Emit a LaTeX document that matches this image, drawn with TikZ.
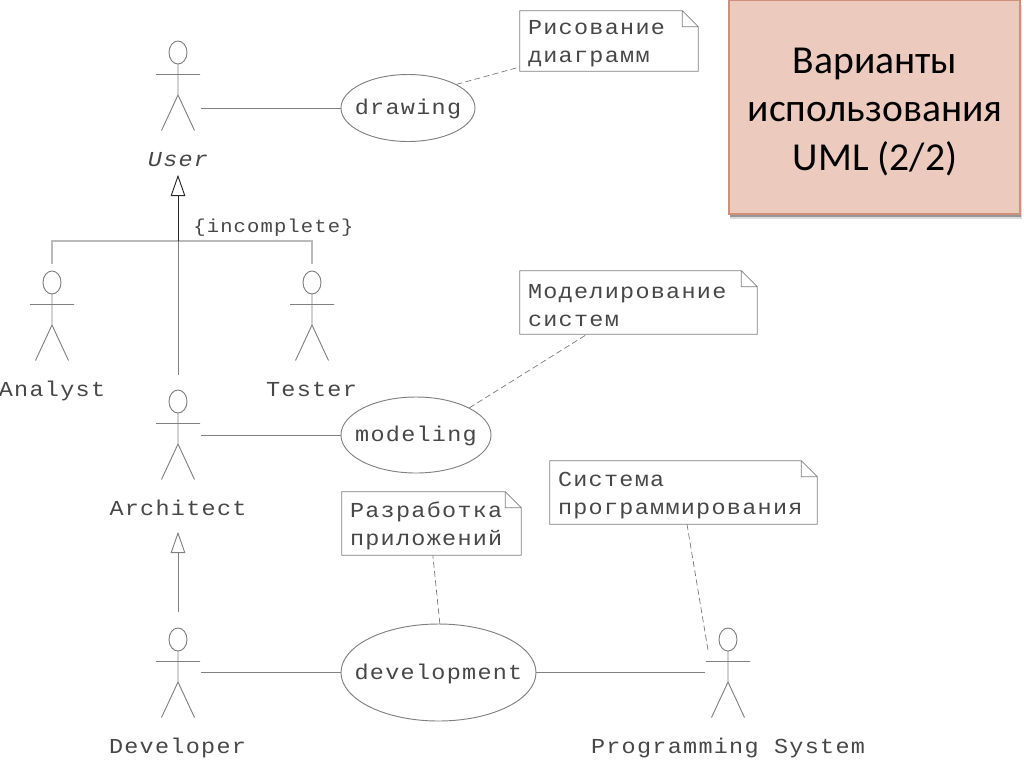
\documentclass[tikz,border=0pt]{standalone}
\usepackage{fontspec}
\usetikzlibrary{arrows.meta,shapes.geometric,calc}
\newfontfamily\umono[FakeStretch=1.1,LetterSpace=6]{Liberation Mono}
\newfontfamily\utitle{Carlito}
\def\upx{*0.75pt}
\tikzset{
  x=0.75pt,y=-0.75pt,
  uline/.style={draw=black!50,line width=0.7pt},
  dashline/.style={draw=black!55,line width=0.5pt,dash pattern=on 4.5pt off 2.5pt},
  actorfig/.style={minimum width=46\upx,minimum height=90\upx,inner sep=0pt},
  actorlabel/.style={font=\umono\fontsize{16}{21}\selectfont,text=black!72,anchor=base,inner sep=0pt,text depth=8\upx},
  ucfont/.style={font=\umono\fontsize{16}{21}\selectfont,text=black!72,inner sep=0pt,yshift=-1pt},
  usecase/.style={ellipse,uline,inner sep=0pt},
  notebox/.style={rectangle,inner xsep=8\upx,inner ysep=0pt,align=left,font=\umono\fontsize{16}{21}\selectfont,text=black!72},
  gentip/.style={-{Triangle[open,length=16pt,width=11pt,fill=white]}},
  titlebox/.style={rectangle,fill=titlefill,draw=titleedge,line width=0.8pt,inner sep=0pt,minimum width=291\upx,minimum height=214\upx},
  titletext/.style={inner sep=0pt,align=center,font=\utitle\fontsize{29.7}{36.4}\selectfont},
  titleshadow/.style={rectangle,fill=black!60,inner sep=0pt,minimum width=291\upx,minimum height=214\upx,opacity=0.6},
  titleglow/.style={rectangle,fill=black!60,inner sep=0pt,minimum width=292\upx,minimum height=214\upx,opacity=0.22}
}
\definecolor{titlefill}{HTML}{ECCBBE}
\definecolor{titleedge}{HTML}{CF8F78}
\newcommand\uactor[3]{%
  \begin{scope}[shift={(#2,#3)}]
    \node[actorfig] (#1) at (0,45) {};
    \draw[uline] (0,11.5) ellipse [x radius=9,y radius=11.5];
    \draw[uline] (0,23) -- (0,54) (-22,33.5) -- (22,33.5) (-16.5,89.5) -- (0,54) -- (16.5,89.5);
  \end{scope}}
\newcommand\unote[6]{% name, left, top, right, bottom, text
  \pgfmathsetmacro\uw{#4-#2}\pgfmathsetmacro\uh{#5-#3}\pgfmathsetmacro\utw{#4-#2-16}
  \node[notebox,minimum width=\uw\upx,minimum height=\uh\upx,text width=\utw\upx] (#1) at ({(#2+#4)/2},{(#3+#5)/2}) {\rule{0pt}{15pt}#6};
  \draw[uline,line width=0.55pt] (#1.south west) -- (#1.north west) -- ([xshift=-12pt]#1.north east) -- ([yshift=-12pt]#1.north east) -- (#1.south east) -- cycle
    ([xshift=-12pt]#1.north east) -- ([xshift=-12pt,yshift=-12pt]#1.north east) -- ([yshift=-12pt]#1.north east);}
\begin{document}
\begin{tikzpicture}
\useasboundingbox (0,0) rectangle (1024,768);
% title
\node[titleglow] (glow) at (875.5,112) {};
\node[titleshadow] (shadow) at (875.5,110) {};
\node[titlebox] (title) at (874.5,107) {};
\node[titletext] (titleT) at (875,112) {Варианты\\использования\\UML (2/2)};
% actors
\uactor{user}{178}{41}
\uactor{analyst}{52}{271}
\uactor{tester}{312}{271}
\uactor{architect}{178}{390}
\uactor{developer}{178}{628}
\uactor{progsys}{728}{628}
% actor labels
\node[actorlabel] (userL) at (178,166.5) {\itshape User};
\node[actorlabel] (analystL) at (52,396.5) {Analyst};
\node[actorlabel] (testerL) at (311.5,396.5) {Tester};
\node[actorlabel,text depth=16\upx] (architectL) at (178,515.5) {Architect};
\node[actorlabel] (developerL) at (177.5,753.5) {Developer};
\node[actorlabel] (progsysL) at (728,753.5) {Programming System};
% use cases
\node[usecase,minimum width=134\upx,minimum height=67\upx,label={[ucfont]center:drawing}] (drawing) at (408,108) {};
\node[usecase,minimum width=150\upx,minimum height=76\upx,label={[ucfont]center:modeling}] (modeling) at (416,435) {};
\node[usecase,minimum width=195\upx,minimum height=97\upx,label={[ucfont]center:development}] (development) at (438.5,672.5) {};
% notes
\unote{noteD}{520}{11}{698}{71}{Рисование\\диаграмм}
\unote{noteM}{520}{271}{757}{334}{Моделирование\\систем}
\unote{noteA}{342}{492}{521}{555}{Разработка\\приложений}
\unote{noteS}{550}{461}{817}{524}{Система\\программирования}
% free ends
\coordinate (archT) at (178,375);
\coordinate (devT) at (178,612);
\coordinate (analystT) at (52,264);
\coordinate (testerT) at (312,264);
\coordinate (bar) at (178,241);
\coordinate (psN) at (708,650);
\coordinate (drawN) at (520,67);
% associations
\draw[uline] (user.east |- drawing.west) -- (drawing.west);
\draw[uline] (architect.east |- modeling.west) -- (modeling.west);
\draw[uline] (developer.east |- development.west) -- (development.west);
\draw[uline] (development.east) -- (progsys.west |- development.east);
% generalisation
\draw[draw=black!27,line width=1.1pt] (analystT) |- (bar) -| (testerT);
\draw[uline] (archT) -- (bar);
\draw[black!85,line width=0.7pt,gentip] (bar) -- (userL.south);
\draw[uline,gentip] (devT) -- (architectL.south);
\node[font=\umono\fontsize{14}{18}\selectfont,text=black!72,inner sep=0pt] (incomplete) at (273.5,227.5) {\{incomplete\}};
% note links
\draw[dashline] (drawing.26) -- (noteD.south west |- drawN);
\draw[dashline] (modeling.27) -- ([xshift=-38.6pt]noteM.south);
\draw[dashline] ([xshift=1pt]development.north) -- ([xshift=1pt]noteA.south);
\draw[dashline] ([xshift=2.6pt]noteS.south) -- (psN);
\end{tikzpicture}
\end{document}
